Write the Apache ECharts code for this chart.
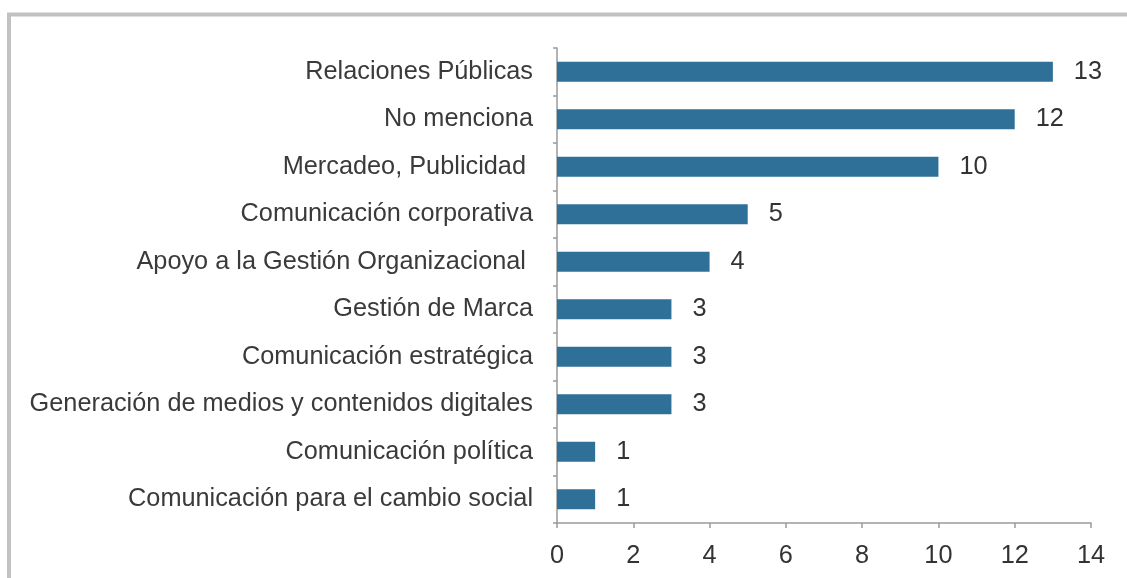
<!DOCTYPE html>
<html>
<head>
<meta charset="utf-8">
<script src="https://cdn.jsdelivr.net/npm/echarts@6/dist/echarts.min.js"></script>
<style>
  html, body { margin: 0; padding: 0; background: #ffffff; }
  #chart { width: 1127px; height: 578px; }
</style>
</head>
<body>
<div id="chart"></div>
<script>
// Areas of work, listed top to bottom
const categories = [
  'Relaciones Públicas',
  'No menciona',
  'Mercadeo, Publicidad ',
  'Comunicación corporativa',
  'Apoyo a la Gestión Organizacional ',
  'Gestión de Marca',
  'Comunicación estratégica',
  'Generación de medios y contenidos digitales',
  'Comunicación política',
  'Comunicación para el cambio social'
];
// Number of mentions per area
const values = [13, 12, 10, 5, 4, 3, 3, 3, 1, 1];
// Value axis range
const axisMin = 0;
const axisMax = 14;
const axisStep = 2;

const FONT = '"Liberation Sans", Arial, sans-serif';
const FONT_SIZE = 25.3;

const chart = echarts.init(document.getElementById('chart'), null, { renderer: 'canvas' });

chart.setOption({
  backgroundColor: '#ffffff',
  animation: false,
  graphic: [{
    type: 'rect',
    silent: true,
    shape: { x: 9, y: 14.5, width: 1400, height: 800 },
    style: { fill: 'none', stroke: '#c2c2c2', lineWidth: 4 }
  }],
  grid: { left: 557, right: 36, top: 48, bottom: 55, containLabel: false },
  xAxis: {
    type: 'value',
    min: axisMin,
    max: axisMax,
    interval: axisStep,
    splitLine: { show: false },
    axisLine: { show: true, lineStyle: { color: '#9a9a9a', width: 1.5 } },
    axisTick: { show: true, length: 5, lineStyle: { color: '#9a9a9a', width: 1.5 } },
    axisLabel: { margin: 21, color: '#333333', fontFamily: FONT, fontSize: FONT_SIZE }
  },
  yAxis: {
    type: 'category',
    inverse: true,
    data: categories,
    axisLine: { show: true, lineStyle: { color: '#9a9a9a', width: 1.5 } },
    axisTick: { show: true, length: 4, alignWithLabel: false, lineStyle: { color: '#9a9a9a', width: 1.5 } },
    axisLabel: { margin: 24, color: '#3a3a3a', fontFamily: FONT, fontSize: FONT_SIZE }
  },
  series: [{
    type: 'bar',
    data: values,
    barCategoryGap: '58%',
    itemStyle: { color: '#2e7098' },
    label: {
      show: true,
      position: 'right',
      distance: 21,
      color: '#333333',
      fontFamily: FONT,
      fontSize: FONT_SIZE
    }
  }]
});
</script>
</body>
</html>
